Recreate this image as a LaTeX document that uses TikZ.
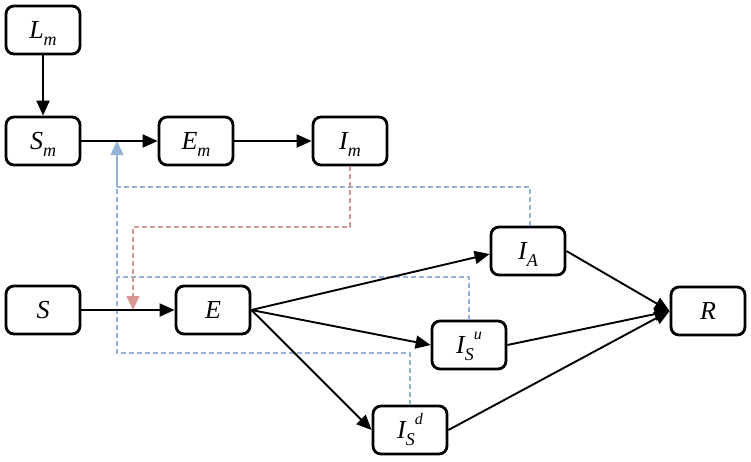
\documentclass[tikz,border=0pt]{standalone}
\usepackage{fontspec}
\setmainfont{Liberation Serif}
\usetikzlibrary{arrows.meta}
\definecolor{fbblue}{HTML}{95B3D7}
\definecolor{fbred}{HTML}{D99694}
\newcommand{\lsub}[1]{\raisebox{-7pt}{\fontsize{18}{18}\selectfont\itshape #1}}
\newcommand{\lsup}[1]{\raisebox{14pt}{\fontsize{16}{16}\selectfont\itshape #1}}
\begin{document}
\begin{tikzpicture}[x=1pt,y=-1pt,
 box/.style={draw, line width=2.8pt, rounded corners=8pt, minimum width=74pt, minimum height=48pt, inner sep=0pt, text height=17pt, text depth=0pt, font=\fontsize{26}{26}\selectfont\itshape},
 flow/.style={line width=1.9pt, -{Triangle[length=15pt,width=13pt]}},
 fbb/.style={fbblue, line width=1.4pt, dash pattern=on 5pt off 3pt},
 fbr/.style={fbred, line width=1.4pt, dash pattern=on 5pt off 3pt}]
\useasboundingbox (0,0) rectangle (751,461);
\node[box] (Lm) at (43,30) {L\lsub{m}};
\node[box] (Sm) at (43,141) {S\lsub{m}};
\node[box] (Em) at (196,141) {E\lsub{m}};
\node[box] (Im) at (350,141) {I\lsub{m}};
\node[box] (S) at (43,310) {S};
\node[box] (E) at (213,310) {E};
\node[box] (IA) at (528,251) {I\lsub{A}};
\node[box] (R) at (708,311) {R};
\node[box] (ISu) at (469,345) {I\lsub{S}\lsup{u}};
\node[box] (ISd) at (410,430) {I\lsub{S}\lsup{d}};
% feedback lines
\coordinate (b1) at (117,187);
\coordinate (b2) at (117,277);
\coordinate (b3) at (117,353);
\coordinate (bt) at (117,141);
\coordinate (r1) at (133,227);
\coordinate (rt) at (133,310);
\draw[fbb] ([xshift=2pt]IA.north) |- (b1);
\draw[fbb] (ISu.north) |- (b2);
\draw[fbb] (ISd.north) |- (b3) -- (b1);
\draw[fbblue, line width=1.4pt, -{Triangle[length=14pt,width=13pt]}] (b1) -- (bt);
\draw[fbr, -{Triangle[length=14pt,width=13pt]}] (Im.south) |- (r1) -- (rt);
% main flows
\draw[flow] (Lm) -- (Sm);
\draw[flow] (Sm) -- (Em);
\draw[flow] (Em) -- (Im);
\draw[flow] (S) -- (E);
\draw[flow] (E.east) -- ([yshift=-3pt]IA.west);
\draw[flow] (E.east) -- (ISu.west);
\draw[flow] (E.east) -- (ISd.west);
\draw[flow] (IA.east) -- (R.west);
\draw[flow] (ISu.east) -- (R.west);
\draw[flow] (ISd.east) -- (R.west);
\end{tikzpicture}
\end{document}
